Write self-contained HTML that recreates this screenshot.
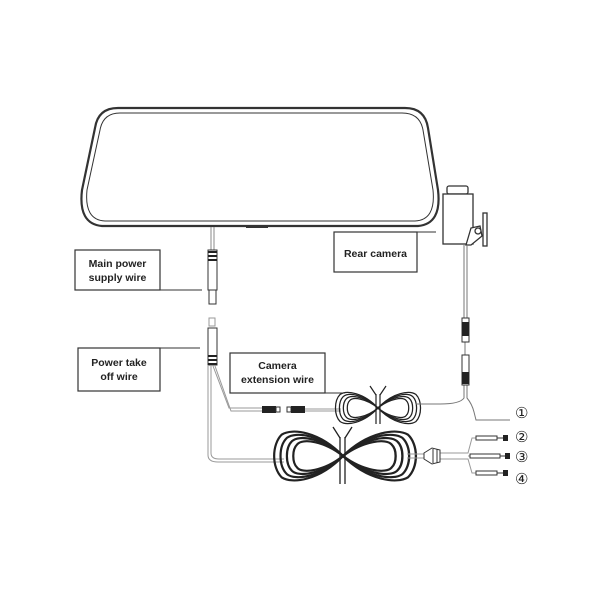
<!DOCTYPE html>
<html><head><style>
html,body{margin:0;padding:0;background:#fff;}
svg{display:block}
text{font-family:"Liberation Sans",Arial,sans-serif;font-weight:bold;font-size:10.5px;fill:#222}
</style></head><body>
<svg width="600" height="600" viewBox="0 0 600 600" xmlns="http://www.w3.org/2000/svg">
<defs>
<g id="lobe">
<path d="M0,0 C-14,-15 -30,-17 -36,-13 C-42,-7 -42,7 -36,13 C-30,17 -14,15 0,0"/>
<path d="M0,0 C-13,-13 -28,-15 -33,-11 C-38,-6 -38,6 -33,11 C-28,15 -13,13 0,0"/>
<path d="M0,0 C-12,-11 -26,-13 -30,-9 C-34,-5 -34,5 -30,9 C-26,13 -12,11 0,0"/>
<path d="M0,0 C-11,-9 -24,-11 -27,-7 C-30,-4 -30,4 -27,7 C-24,11 -11,9 0,0"/>
</g>
</defs>
<!-- mirror -->
<g fill="none" stroke="#333">
<path d="M118,108 L405,108 Q425,108 428,128 L438,190 Q442,224 418,226 L102,226 Q78,224 82,190 L95,128 Q98,108 118,108 Z" stroke-width="2.2"/>
<path d="M120,113 L402,113 Q420,113 423,130 L433,190 Q436,220 415,221 L105,221 Q84,220 87,190 L100,130 Q103,113 120,113 Z" stroke-width="1"/>
<line x1="246" y1="227" x2="268" y2="227" stroke-width="2"/>
</g>
<!-- mirror cable and connectors -->
<g stroke="#555" fill="none">
<line x1="211" y1="227" x2="211" y2="250" stroke="#888"/>
<line x1="214" y1="227" x2="214" y2="250" stroke="#888"/>
<rect x="208" y="250" width="9" height="40" fill="#fff" stroke="#333"/>
<rect x="209" y="290" width="7" height="14" fill="#fff" stroke="#333"/>
<rect x="208" y="328" width="9" height="37" fill="#fff" stroke="#333"/>
<rect x="209" y="318" width="6" height="8" fill="#fff" stroke="#999"/>
</g>
<g fill="#222">
<rect x="208" y="251" width="9" height="2"/><rect x="208" y="255" width="9" height="2"/><rect x="208" y="259" width="9" height="2"/>
<rect x="208" y="355" width="9" height="2"/><rect x="208" y="359" width="9" height="2"/><rect x="208" y="363" width="9" height="2"/>
</g>
<!-- wires from power connector -->
<g fill="none" stroke="#999">
<path d="M213,366 L229,408 L262,408"/>
<path d="M215,366 L231,411 L262,411"/>
<path d="M208,366 L208,455 Q208,462 218,462 L284,462"/>
<path d="M211,366 L211,453 Q211,459 219,459 L284,459"/>
<line x1="305" y1="409" x2="341" y2="409"/><line x1="305" y1="411" x2="341" y2="411"/>
</g>
<rect x="262" y="406" width="14" height="7" fill="#222"/><rect x="276" y="407" width="4" height="5" fill="#fff" stroke="#333"/>
<rect x="287" y="407" width="4" height="5" fill="#fff" stroke="#333"/><rect x="291" y="406" width="14" height="7" fill="#222"/>
<!-- coil 1 -->
<g fill="none" stroke="#222" stroke-width="1.2">
<g transform="translate(378,408) scale(1.05,1.05)"><use href="#lobe"/></g>
<g transform="translate(378,408) scale(-1.05,1.05)"><use href="#lobe"/></g>
<path d="M376,394 L376,424 M380,394 L380,424"/>
<path d="M376,395 L370,386 M380,395 L386,386"/>
</g>
<!-- coil 2 -->
<g fill="none" stroke="#222" stroke-width="1.3">
<g transform="translate(343,456) scale(1.7,1.65)"><use href="#lobe"/></g>
<g transform="translate(343,456) scale(-1.8,1.65)"><use href="#lobe"/></g>
<path d="M340,437 L340,484 M345,437 L345,484"/>
<path d="M340,438 L333,427 M345,438 L352,427"/>
</g>
<!-- wire to fuse and leads -->
<g fill="none" stroke="#999">
<line x1="407" y1="454" x2="424" y2="454"/><line x1="407" y1="458" x2="424" y2="458"/>
<path d="M440,453 L468,453 L472,438 L476,438"/>
<path d="M440,459 L468,459 L472,473 L476,473"/>
<line x1="468" y1="456" x2="472" y2="456"/>
</g>
<path d="M424,453 L432,448 L440,450 L440,462 L432,464 L424,459 Z" fill="#fff" stroke="#333"/>
<line x1="433" y1="449" x2="433" y2="463" stroke="#333"/><line x1="437" y1="449" x2="437" y2="463" stroke="#333"/>
<g stroke="#333" fill="#fff">
<rect x="476" y="436" width="21" height="4"/><rect x="470" y="454" width="30" height="4"/><rect x="476" y="471" width="21" height="4"/>
</g>
<g fill="#222">
<rect x="503" y="435" width="5" height="6"/><rect x="505" y="453" width="5" height="6"/><rect x="503" y="470" width="5" height="6"/>
</g>
<g stroke="#333"><line x1="497" y1="438" x2="503" y2="438"/><line x1="500" y1="456" x2="505" y2="456"/><line x1="497" y1="473" x2="503" y2="473"/></g>
<!-- camera -->
<g fill="#fff" stroke="#333" stroke-width="1.3">
<rect x="447" y="186" width="21" height="8" rx="2"/>
<rect x="443" y="194" width="30" height="50"/>
<rect x="483" y="213" width="4" height="33"/>
<path d="M466,245 L471,228 L480,226 L482,236 L471,245 Z"/>
<circle cx="478" cy="231" r="3"/>
</g>
<g fill="none" stroke="#777">
<line x1="464" y1="245" x2="464" y2="318"/><line x1="467" y1="245" x2="467" y2="318"/>
<line x1="465" y1="342" x2="465" y2="355"/>
<path d="M464,385 L464,398 Q460,404 440,404 L416,404"/>
<path d="M467,385 L467,398 Q472,404 474,412 L476,420 L510,420"/>
</g>
<rect x="462" y="318" width="7" height="24" fill="#fff" stroke="#333"/>
<rect x="462" y="322" width="7" height="14" fill="#222"/>
<rect x="462" y="355" width="7" height="30" fill="#fff" stroke="#333"/>
<rect x="462" y="372" width="7" height="12" fill="#222"/>
<!-- label boxes -->
<g fill="#fff" stroke="#333" stroke-width="1.2">
<rect x="75" y="250" width="85" height="40"/>
<rect x="78" y="348" width="82" height="43"/>
<rect x="230" y="353" width="95" height="40"/>
<rect x="334" y="232" width="83" height="40"/>
</g>
<g stroke="#333" stroke-width="1">
<line x1="160" y1="290" x2="202" y2="290"/>
<line x1="160" y1="348" x2="200" y2="348"/>
<line x1="325" y1="393" x2="345" y2="393"/>
<line x1="417" y1="232" x2="436" y2="232"/>
</g>
<text x="117.5" y="267" text-anchor="middle">Main power</text>
<text x="117.5" y="281" text-anchor="middle">supply wire</text>
<text x="119" y="366" text-anchor="middle">Power take</text>
<text x="119" y="380" text-anchor="middle">off wire</text>
<text x="277.5" y="369" text-anchor="middle">Camera</text>
<text x="277.5" y="383" text-anchor="middle">extension wire</text>
<text x="375.5" y="257" text-anchor="middle">Rear camera</text>
<text x="515" y="418" style="font-weight:normal;font-size:15px;font-family:'DejaVu Serif',serif">①</text>
<text x="515" y="442" style="font-weight:normal;font-size:15px;font-family:'DejaVu Serif',serif">②</text>
<text x="515" y="462" style="font-weight:normal;font-size:15px;font-family:'DejaVu Serif',serif">③</text>
<text x="515" y="484" style="font-weight:normal;font-size:15px;font-family:'DejaVu Serif',serif">④</text>
</svg>
</body></html>
